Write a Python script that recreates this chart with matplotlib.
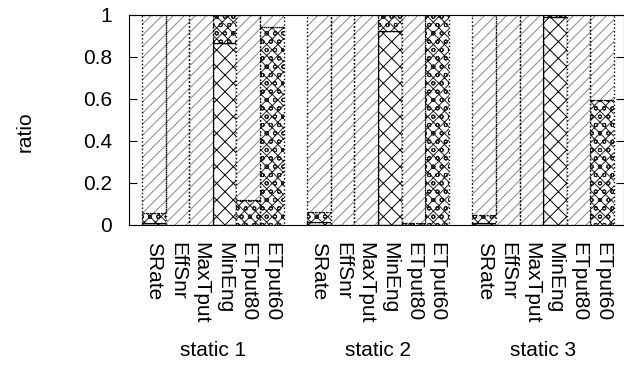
import numpy as np
import matplotlib
matplotlib.use("Agg")
import matplotlib.pyplot as plt

plt.rcParams["font.family"] = ["Liberation Sans", "DejaVu Sans"]
plt.rcParams["hatch.linewidth"] = 0.7

groups = ["static 1", "static 2", "static 3"]
schemes = ["SRate", "EffSnr", "MaxTput", "MinEng", "ETput80", "ETput60"]

# three stacked parts per bar, rows = groups, cols = schemes
part_a = [[0.01, 0.0, 0.0, 0.868, 0.0, 0.0],
          [0.015, 0.0, 0.0, 0.924, 0.0, 0.0],
          [0.01, 0.0, 0.0, 0.99, 0.0, 0.0]]
part_b = [[0.045, 0.0, 0.0, 0.132, 0.119, 0.944],
          [0.047, 0.0, 0.0, 0.076, 0.01, 1.0],
          [0.038, 0.0, 0.0, 0.01, 0.0, 0.595]]
part_c = [[0.945, 1.0, 1.0, 0.0, 0.881, 0.056],
          [0.938, 1.0, 1.0, 0.0, 0.99, 0.0],
          [0.952, 1.0, 1.0, 0.0, 1.0, 0.405]]

fig = plt.figure(figsize=(6.24, 3.67), dpi=100)
ax = fig.add_axes([129 / 624, 1 - 225 / 367, 495 / 624, 210 / 367])

nb = len(schemes)
xs, labels = [], []
styles = [("xx", "black", "-"), ("xxxoo", "#202020", ":"), ("///", "#888888", ":")]
for g in range(len(groups)):
    x = np.arange(nb) + g * (nb + 1)
    bottom = np.zeros(nb)
    for vals, (hatch, hc, ls) in zip([part_a[g], part_b[g], part_c[g]], styles):
        vals = np.array(vals)
        ax.bar(x, vals, width=1.0, bottom=bottom, color="white", hatch=hatch,
               edgecolor=hc, linewidth=0)
        ax.bar(x, vals, width=1.0, bottom=bottom, fill=False,
               edgecolor="black", linewidth=1.0, linestyle=ls)
        bottom += vals
    xs.extend(x)
    labels.extend(schemes)
    ax.text(x.mean(), -0.60, groups[g], transform=ax.get_xaxis_transform(),
            ha="center", va="center", fontsize=15)

ax.set_xlim(-1.05, 19.92)
ax.set_ylim(0, 1)
ax.set_xticks(xs)
ax.set_xticklabels(labels, rotation=-90, fontsize=15, va="top", ha="center")
ax.tick_params(axis="x", length=0, pad=12)
ax.set_yticks([0, 0.2, 0.4, 0.6, 0.8, 1])
ax.set_yticklabels(["0", "0.2", "0.4", "0.6", "0.8", "1"])
ax.tick_params(axis="y", direction="in", length=6, right=True, labelsize=15, pad=12)
ax.set_ylabel("ratio", fontsize=15)
ax.yaxis.set_label_coords(-0.19, 0.443)

fig.savefig("out.png", dpi=100)
